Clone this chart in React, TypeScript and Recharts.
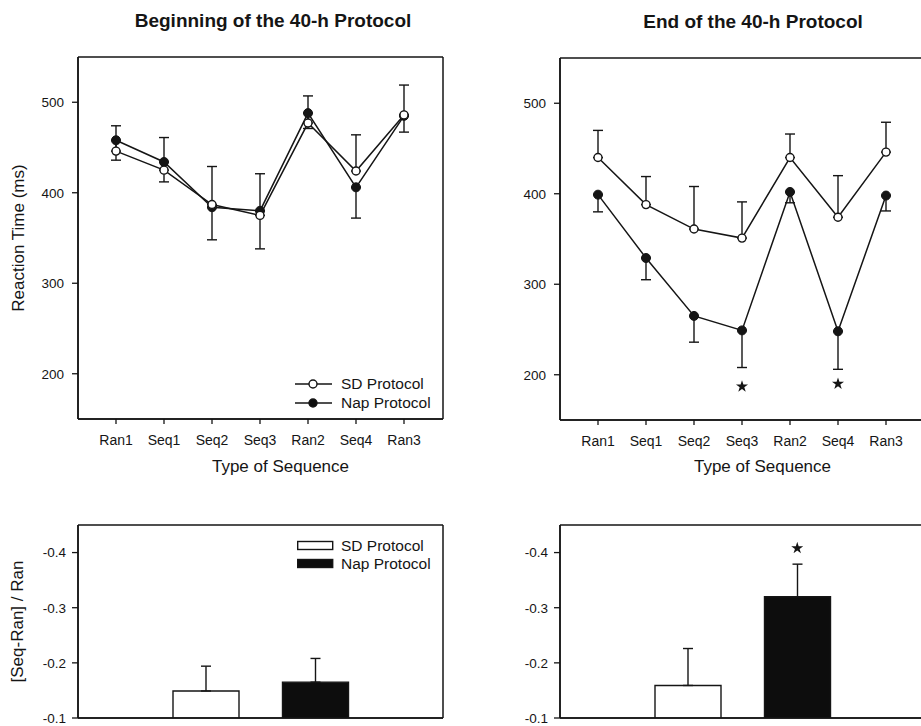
import React from "react";
import {
  ComposedChart,
  Line,
  Bar,
  Cell,
  XAxis,
  YAxis,
  CartesianGrid,
  ErrorBar,
  Legend,
  Symbols,
} from "recharts";

const FONT = "'Liberation Sans', Arial, Helvetica, sans-serif";
const INK = "#151515";

// x categories of the reaction-time panels
const sequences = ["Ran1", "Seq1", "Seq2", "Seq3", "Ran2", "Seq4", "Ran3"];

// beginning of the 40-h protocol (ms), SD errors go up, Nap errors go down
const sdBegin = [446, 425, 387, 375, 477, 424, 486];
const sdBeginErr = [28, 36, 42, 46, 30, 40, 33];
const napBegin = [458, 434, 384, 380, 488, 406, 485];
const napBeginErr = [22, 22, 36, 42, 17, 34, 18];

// end of the 40-h protocol (ms)
const sdEnd = [440, 388, 361, 351, 440, 374, 446];
const sdEndErr = [30, 31, 47, 40, 26, 46, 33];
const napEnd = [399, 329, 265, 249, 402, 248, 398];
const napEndErr = [19, 24, 29, 41, 12, 42, 17];
const endStars = [null, null, null, 187, null, 190, null];

const rtTicks = [200, 300, 400, 500];

// [Seq-Ran] / Ran
const groups = ["SD Protocol", "Nap Protocol"];
const groupFill = ["#ffffff", "#0d0d0d"];
const ratioBegin = [-0.149, -0.165];
const ratioBeginErr = [0.045, 0.043];
const ratioEnd = [-0.159, -0.32];
const ratioEndErr = [0.067, 0.059];
const ratioEndStars = [null, -0.408];
const ratioTicks = [-0.4, -0.3, -0.2, -0.1];

const toRows = (sd, sdErr, nap, napErr, stars?) =>
  sequences.map((seq, i) => ({
    seq,
    sd: sd[i],
    sdErr: [0, sdErr[i]],
    nap: nap[i],
    napErr: [napErr[i], 0],
    star: stars ? stars[i] : null,
  }));

const toBarRows = (vals, errs, stars?) =>
  groups.map((group, i) => ({
    group,
    value: vals[i],
    err: [errs[i], 0],
    star: stars ? stars[i] : null,
  }));

const beginRows = toRows(sdBegin, sdBeginErr, napBegin, napBeginErr);
const endRows = toRows(sdEnd, sdEndErr, napEnd, napEndErr, endStars);
const ratioBeginRows = toBarRows(ratioBegin, ratioBeginErr);
const ratioEndRows = toBarRows(ratioEnd, ratioEndErr, ratioEndStars);

// box around the plot area
const frameH = ({ offset }) => [offset.top, offset.top + offset.height];
const frameV = ({ offset }) => [offset.left, offset.left + offset.width];

const axisLine = { stroke: INK, strokeWidth: 1.5 };
const tickLine = { stroke: INK, strokeWidth: 1.3 };
const tickText = { fill: INK, fontSize: 13.5, fontFamily: FONT };
const axisLabelStyle = { fill: INK, fontSize: 17, fontFamily: FONT };

const StarDot = (p) =>
  p.value == null ? null : <Symbols cx={p.cx} cy={p.cy} type="star" size={45} fill={INK} stroke="none" />;

const LineLegend = () => (
  <div style={{ fontFamily: FONT, fontSize: 15.5, color: INK }}>
    {groups.map((g, i) => (
      <div key={g} style={{ display: "flex", alignItems: "center", height: 19 }}>
        <svg width={38} height={12}>
          <line x1={0} y1={6} x2={37} y2={6} stroke={INK} strokeWidth={1.5} />
          <circle cx={18} cy={6} r={4} fill={groupFill[i]} stroke={INK} strokeWidth={1.4} />
        </svg>
        <span style={{ marginLeft: 8 }}>{g}</span>
      </div>
    ))}
  </div>
);

const BarLegend = () => (
  <div style={{ fontFamily: FONT, fontSize: 15.5, color: INK }}>
    {groups.map((g, i) => (
      <div key={g} style={{ display: "flex", alignItems: "center", height: 18 }}>
        <svg width={38} height={12}>
          <rect x={0.7} y={1.5} width={35} height={8} fill={groupFill[i]} stroke={INK} strokeWidth={1.4} />
        </svg>
        <span style={{ marginLeft: 6 }}>{g}</span>
      </div>
    ))}
  </div>
);

const RtPanel = ({ data, top, yLabel, legend }) => (
  <ComposedChart
    width={460}
    height={490}
    data={data}
    margin={{ top, right: 17, left: 0, bottom: 0 }}
  >
    <CartesianGrid
      stroke={INK}
      strokeWidth={1.5}
      horizontalCoordinatesGenerator={frameH}
      verticalCoordinatesGenerator={frameV}
    />
    <XAxis
      dataKey="seq"
      type="category"
      scale="point"
      interval={0}
      padding={{ left: 38, right: 39 }}
      height={490 - 419 - (top - 57)}
      axisLine={axisLine}
      tickLine={tickLine}
      tickSize={5}
      tickMargin={11}
      tick={{ ...tickText, fontSize: 14 }}
      label={{ value: "Type of Sequence", position: "insideBottom", offset: 18, dx: 20, style: axisLabelStyle }}
    />
    <YAxis
      type="number"
      domain={[150, 550]}
      ticks={rtTicks}
      width={78}
      axisLine={axisLine}
      tickLine={tickLine}
      tickSize={6}
      tickMargin={8}
      tick={tickText}
      label={
        yLabel
          ? { value: yLabel, angle: -90, position: "insideLeft", offset: 18, style: { ...axisLabelStyle, textAnchor: "middle" } }
          : undefined
      }
    />
    {legend && (
      <Legend
        layout="vertical"
        align="center"
        verticalAlign="middle"
        content={LineLegend}
        wrapperStyle={{ left: 295, top: 374, width: "auto", height: "auto" }}
      />
    )}
    <Line
      dataKey="nap"
      name="Nap Protocol"
      stroke={INK}
      strokeWidth={1.5}
      dot={{ r: 4.5, fill: INK, stroke: INK, strokeWidth: 1 }}
      activeDot={false}
      isAnimationActive={false}
    >
      <ErrorBar dataKey="napErr" width={5} stroke={INK} strokeWidth={1.4} direction="y" />
    </Line>
    <Line
      dataKey="sd"
      name="SD Protocol"
      stroke={INK}
      strokeWidth={1.5}
      dot={{ r: 4, fill: "#fff", stroke: INK, strokeWidth: 1.4 }}
      activeDot={false}
      isAnimationActive={false}
    >
      <ErrorBar dataKey="sdErr" width={5} stroke={INK} strokeWidth={1.4} direction="y" />
    </Line>
    <Line dataKey="star" stroke="none" dot={StarDot} activeDot={false} legendType="none" isAnimationActive={false} />
  </ComposedChart>
);

const RatioPanel = ({ data, yLabel, legend }) => (
  <ComposedChart
    width={460}
    height={260}
    data={data}
    barSize={66}
    margin={{ top: 37, right: 17, left: 0, bottom: 0 }}
  >
    <CartesianGrid
      stroke={INK}
      strokeWidth={1.5}
      horizontalCoordinatesGenerator={frameH}
      verticalCoordinatesGenerator={frameV}
    />
    <XAxis
      dataKey="group"
      type="category"
      padding={{ left: 73, right: 73 }}
      height={30}
      axisLine={axisLine}
      tick={false}
      tickLine={false}
    />
    <YAxis
      type="number"
      domain={[-0.45, -0.1]}
      reversed
      allowDataOverflow
      ticks={ratioTicks}
      tickFormatter={(v) => v.toFixed(1)}
      width={78}
      axisLine={axisLine}
      tickLine={tickLine}
      tickSize={6}
      tickMargin={6}
      tick={tickText}
      label={
        yLabel
          ? { value: yLabel, angle: -90, position: "insideLeft", offset: 17, style: { ...axisLabelStyle, textAnchor: "middle" } }
          : undefined
      }
    />
    {legend && (
      <Legend
        layout="vertical"
        align="center"
        verticalAlign="middle"
        content={BarLegend}
        wrapperStyle={{ left: 297, top: 49, width: "auto", height: "auto" }}
      />
    )}
    <Bar dataKey="value" stroke={INK} strokeWidth={1.4} isAnimationActive={false}>
      {data.map((r, i) => (
        <Cell key={r.group} fill={groupFill[i]} />
      ))}
      <ErrorBar dataKey="err" width={5} stroke={INK} strokeWidth={1.4} direction="y" />
    </Bar>
    <Line dataKey="star" stroke="none" dot={StarDot} activeDot={false} legendType="none" isAnimationActive={false} />
  </ComposedChart>
);

const titleStyle = {
  position: "absolute" as const,
  transform: "translateX(-50%)",
  whiteSpace: "nowrap" as const,
  fontFamily: FONT,
  fontWeight: 700,
  fontSize: 19,
  lineHeight: "22px",
  color: INK,
};

export default function App() {
  return (
    <div
      style={{
        position: "absolute",
        left: 0,
        top: 0,
        width: 921,
        height: 726,
        overflow: "hidden",
        background: "#fff",
        fontFamily: FONT,
      }}
    >
      <div style={{ ...titleStyle, left: 273, top: 10 }}>Beginning of the 40-h Protocol</div>
      <div style={{ ...titleStyle, left: 753, top: 11 }}>End of the 40-h Protocol</div>

      <div style={{ position: "absolute", left: 0, top: 0 }}>
        <RtPanel data={beginRows} top={57} yLabel="Reaction Time (ms)" legend />
      </div>
      <div style={{ position: "absolute", left: 482, top: 0 }}>
        <RtPanel data={endRows} top={58} yLabel={null} legend={false} />
      </div>

      <div style={{ position: "absolute", left: 0, top: 488 }}>
        <RatioPanel data={ratioBeginRows} yLabel="[Seq-Ran] / Ran" legend />
      </div>
      <div style={{ position: "absolute", left: 482, top: 488 }}>
        <RatioPanel data={ratioEndRows} yLabel={null} legend={false} />
      </div>
    </div>
  );
}
